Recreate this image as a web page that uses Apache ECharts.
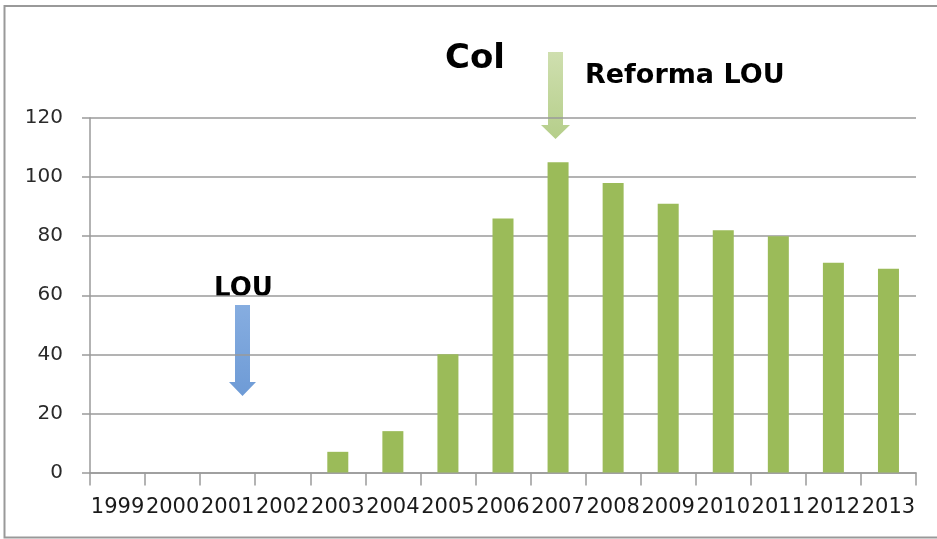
<!DOCTYPE html>
<html>
<head>
<meta charset="utf-8">
<script src="https://cdn.jsdelivr.net/npm/echarts@6/dist/echarts.min.js"></script>
<style>
html,body{margin:0;padding:0;background:#fff;}
#chart{width:937px;height:539px;}
</style>
</head>
<body>
<div id="chart"></div>
<script>
var categories = ['1999','2000','2001','2002','2003','2004','2005','2006','2007','2008','2009','2010','2011','2012','2013'];
var values = [0,0,0,0,7,14,40,86,105,98,91,82,80,71,69];
var yTicks = [0,20,40,60,80,100,120];
var titleText = 'Col';
var annotations = ['LOU','Reforma LOU'];

var chart = echarts.init(document.getElementById('chart'));
var gridColor = '#9a9a9a';
var option = {
  backgroundColor: '#ffffff',
  animation: false,
  grid: {left: 90, right: 21, top: 118, bottom: 66.5},
  xAxis: {
    type: 'category',
    data: categories,
    boundaryGap: true,
    axisLine: {show: true, lineStyle: {color: gridColor, width: 1.5}},
    axisTick: {show: true, length: 13, lineStyle: {color: gridColor, width: 1.5}},
    axisLabel: {margin: 25, color: '#1a1a1a', fontFamily: 'DejaVu Sans', fontSize: 21, interval: 0}
  },
  yAxis: {
    type: 'value',
    min: yTicks[0],
    max: yTicks[yTicks.length-1],
    interval: 20,
    axisLine: {show: true, lineStyle: {color: gridColor, width: 1.5}},
    axisTick: {show: true, length: 8, lineStyle: {color: gridColor, width: 1.5}},
    axisLabel: {margin: 27, color: '#2a2a2a', fontFamily: 'DejaVu Sans', fontSize: 20},
    splitLine: {show: true, lineStyle: {color: gridColor, width: 1.5}}
  },
  series: [{
    type: 'bar',
    data: values,
    barWidth: 21,
    itemStyle: {color: '#9BBB59'}
  }],
  graphic: [
    {type: 'rect', shape: {x: 4.5, y: 6, width: 940, height: 531.5}, style: {fill: 'none', stroke: '#999', lineWidth: 2}, silent: true},
    {type: 'text', left: 445, top: 42, style: {text: titleText, font: 'bold 34px "DejaVu Sans"', fill: '#000'}},
    {type: 'text', left: 585, top: 62, style: {text: annotations[1], font: 'bold 27px "DejaVu Sans"', fill: '#000'}},
    {type: 'text', left: 214, top: 276, style: {text: annotations[0], font: 'bold 26px "DejaVu Sans"', fill: '#000'}},
    {type: 'polygon', shape: {points: [[235,305],[250,305],[250,382],[256,382],[242.5,396],[229,382],[235,382]]},
      style: {fill: new echarts.graphic.LinearGradient(0,0,0,1,[{offset:0,color:'#86ADE0'},{offset:1,color:'#6E9BD6'}])}},
    {type: 'polygon', shape: {points: [[548,52],[563,52],[563,125],[570,125],[555.5,139],[541,125],[548,125]]},
      style: {fill: new echarts.graphic.LinearGradient(0,0,0,1,[{offset:0,color:'#CFDFAF'},{offset:1,color:'#B5CE8A'}])}}
  ]
};
chart.setOption(option);
</script>
</body>
</html>
